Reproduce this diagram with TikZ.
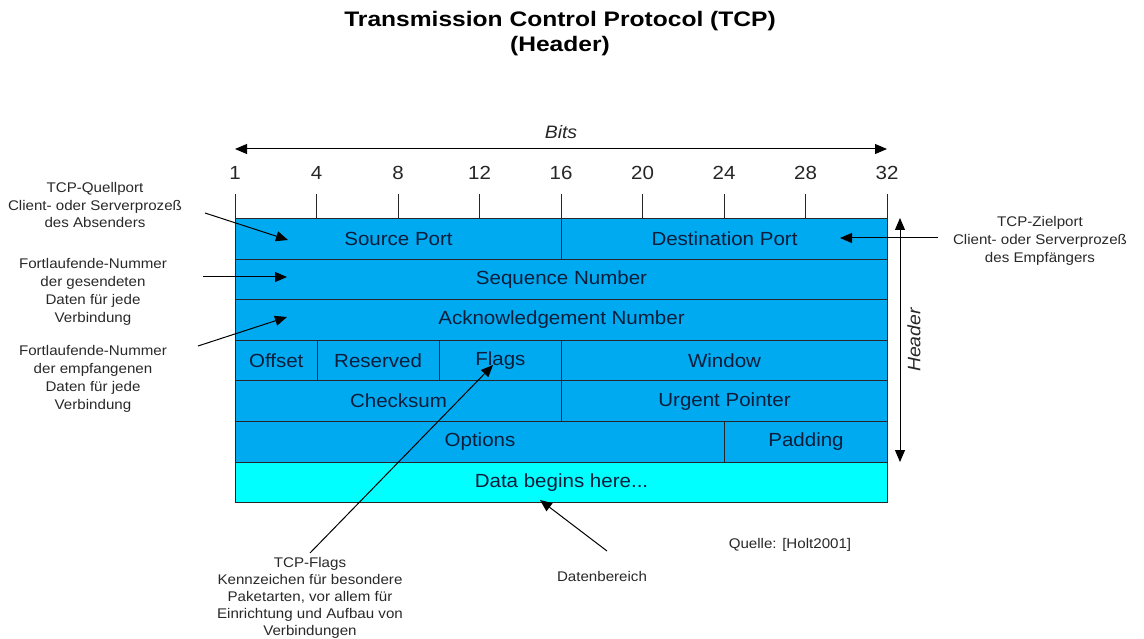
\documentclass[tikz,border=0pt]{standalone}
\usepackage{fontspec}
\setmainfont{Liberation Sans}[FakeStretch=1.08]
\newfontfamily\titlefont{Liberation Sans}[FakeStretch=1.17]
\usetikzlibrary{arrows.meta}
\definecolor{tcpblue}{RGB}{0,170,240}
\definecolor{tcpcyan}{RGB}{0,255,255}
\definecolor{tcptext}{RGB}{10,30,60}
\definecolor{annot}{RGB}{40,40,40}
\newcommand{\fieldbox}[6]{%
  \pgfmathsetmacro\fw{(#3-#2)*20.375}%
  \pgfmathsetmacro\fx{235+#2*20.375}%
  \pgfmathsetmacro\fy{218+#4*40.6}%
  \node[#6, minimum width=\fw pt, minimum height=40.6pt, anchor=north west] (#1) at (\fx,\fy) {#5};}
\begin{document}
\begin{tikzpicture}[x=1pt,y=-1pt,
  fieldst/.style={draw=black!85, line width=1pt, fill=tcpblue, inner sep=0pt, text=tcptext, font=\fontsize{19}{23}\selectfont},
  datast/.style={fieldst, fill=tcpcyan},
  note/.style={align=center, text=annot, font=\fontsize{14}{17.8}\selectfont},
  tip/.style={-{Triangle[length=12pt,width=10pt]}, line width=1pt},
  dtip/.style={{Triangle[length=12pt,width=10pt]}-{Triangle[length=12pt,width=10pt]}, line width=1pt},
  ticklab/.style={font=\fontsize{19}{22}\selectfont, text=black!85}
]
\useasboundingbox (0,0) rectangle (1144,639);
% title
\node[font=\titlefont\bfseries\fontsize{21}{25}\selectfont, align=center, anchor=north] (title) at (560,8) {Transmission Control Protocol (TCP)\\(Header)};
% bits axis
\coordinate (bl) at (235,149);
\coordinate (br) at (887,149);
\draw[dtip] (bl) -- (br);
\node[font=\itshape\fontsize{18}{22}\selectfont, text=black!85] (bits) at (561,132) {Bits};
\foreach \k/\lab in {0/1,4/4,8/8,12/12,16/16,20/20,24/24,28/28,32/32}{
  \coordinate (tt\k) at ({235+\k*20.375},194);
  \coordinate (tb\k) at ({235+\k*20.375},218);
  \draw[line width=1pt, black!85] (tt\k) -- (tb\k);
  \node[ticklab] (t\k) at ({235+\k*20.375},173) {\lab};
}
% fields
\fieldbox{src}{0}{16}{0}{Source Port}{fieldst}
\fieldbox{dst}{16}{32}{0}{Destination Port}{fieldst}
\fieldbox{seq}{0}{32}{1}{Sequence Number}{fieldst}
\fieldbox{ack}{0}{32}{2}{Acknowledgement Number}{fieldst}
\fieldbox{off}{0}{4}{3}{Offset}{fieldst}
\fieldbox{res}{4}{10}{3}{Reserved}{fieldst}
\fieldbox{flg}{10}{16}{3}{Flags}{fieldst}
\fieldbox{win}{16}{32}{3}{Window}{fieldst}
\fieldbox{chk}{0}{16}{4}{Checksum}{fieldst}
\fieldbox{urg}{16}{32}{4}{Urgent Pointer}{fieldst}
\fieldbox{opt}{0}{24}{5}{Options}{fieldst}
\fieldbox{pad}{24}{32}{5}{Padding}{fieldst}
\fieldbox{dat}{0}{32}{6}{Data begins here...}{datast}
% header arrow
\coordinate (ht) at (900,218);
\coordinate (hb) at (900,462);
\draw[dtip] (ht) -- (hb);
\node[rotate=90, font=\itshape\fontsize{18}{22}\selectfont, text=black!85] (hdr) at (914,340) {Header};
% annotations
\node[note] (nsrc) at (95,205) {TCP-Quellport\\Client- oder Serverproze\ss\\des Absenders};
\coordinate (asrc0) at (205,213); \coordinate (asrc1) at (288,240);
\draw[tip] (asrc0) -- (asrc1);
\node[note] (nseq) at (93,292) {Fortlaufende-Nummer\\der gesendeten\\Daten f\"ur jede\\Verbindung};
\coordinate (aseq0) at (203,277); \coordinate (aseq1) at (287,277);
\draw[tip] (aseq0) -- (aseq1);
\node[note] (nack) at (93,379) {Fortlaufende-Nummer\\der empfangenen\\Daten f\"ur jede\\Verbindung};
\coordinate (aack0) at (198,346); \coordinate (aack1) at (287,317);
\draw[tip] (aack0) -- (aack1);
\node[note] (ndst) at (1040,241) {TCP-Zielport\\Client- oder Serverproze\ss\\des Empf\"angers};
\coordinate (adst0) at (938,238); \coordinate (adst1) at (840,238);
\draw[tip] (adst0) -- (adst1);
\node[note, font=\fontsize{14}{17}\selectfont] (nflg) at (310,598) {TCP-Flags\\Kennzeichen f\"ur besondere\\Paketarten, vor allem f\"ur\\Einrichtung und Aufbau von\\Verbindungen};
\coordinate (aflg0) at (310,553); \coordinate (aflg1) at (493,365);
\draw[tip] (aflg0) -- (aflg1);
\node[note] (ndat) at (602,576) {Datenbereich};
\coordinate (adat0) at (607,551); \coordinate (adat1) at (540,500);
\draw[tip] (adat0) -- (adat1);
\node[note] (src) at (790,545) {Quelle: [Holt2001]};
\end{tikzpicture}
\end{document}
